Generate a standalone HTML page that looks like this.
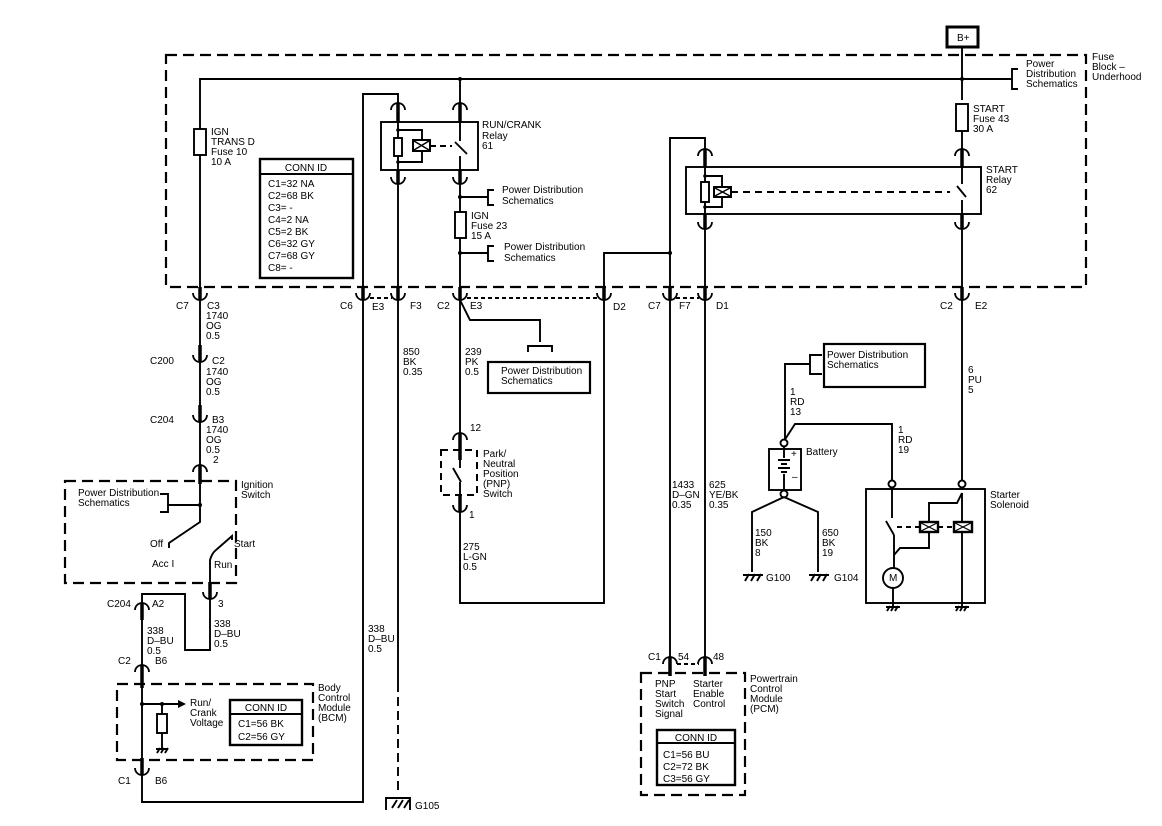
<!DOCTYPE html>
<html><head><meta charset="utf-8"><style>
html,body{margin:0;padding:0;background:#fff}
svg{display:block}
text{font-family:"Liberation Sans",Arial,sans-serif;font-size:10px;fill:#000}
</style></head><body>
<svg width="1162" height="826" viewBox="0 0 1162 826" xmlns="http://www.w3.org/2000/svg">
<g fill="none" stroke="#000" stroke-width="1.9">
<rect x="166" y="55" width="920" height="232" stroke-width="2.2" stroke-dasharray="11,6"/>
<rect x="947" y="27" width="31" height="20" stroke-width="3"/>
<line x1="962" y1="47" x2="962" y2="100"/>
<polyline points="200,293 200,79 1012,79"/>
<path d="M1018,69 H1012 V89 H1018"/>
<rect x="194" y="129" width="12" height="26" fill="#fff"/>
<rect x="260" y="159" width="93" height="119" stroke-width="2.4"/>
<line x1="260" y1="174" x2="353" y2="174"/>
<polyline points="398,110 398,94 363,94 363,802 142,802 142,768"/>
<line x1="460" y1="79" x2="460" y2="110"/>
<rect x="381" y="122" width="97" height="48"/>
<line x1="398" y1="110" x2="398" y2="177"/>
<polyline points="398,130 422,130 422,140"/>
<polyline points="422,151 422,162 398,162"/>
<rect x="394" y="138" width="8" height="18" fill="#fff"/>
<rect x="413" y="140" width="17" height="11" fill="#fff" stroke-width="2"/>
<path d="M414,141 L429,150 M429,141 L414,150" stroke-width="1.4"/>
<line x1="430" y1="146" x2="452" y2="146" stroke-dasharray="6,4"/>
<line x1="460" y1="110" x2="460" y2="141"/>
<line x1="455" y1="142" x2="467" y2="154"/>
<line x1="460" y1="156" x2="460" y2="440"/>
<line x1="398" y1="177" x2="398" y2="683"/>
<line x1="398" y1="683" x2="398" y2="795" stroke-dasharray="9,5"/>
<polyline points="460,197 488,197"/>
<path d="M494,190 H488 V205 H494"/>
<rect x="455" y="212" width="11" height="26" fill="#fff"/>
<polyline points="460,253 488,253"/>
<path d="M494,246 H488 V261 H494"/>
<polyline points="604,293 604,253 670,253"/>
<polyline points="705,156 705,138 670,138 670,664"/>
<rect x="686" y="167" width="295" height="47"/>
<line x1="705" y1="156" x2="705" y2="664"/>
<polyline points="705,176 722,176 722,186"/>
<polyline points="722,197 722,207 705,207"/>
<rect x="701" y="182" width="8" height="20" fill="#fff"/>
<rect x="714" y="187" width="17" height="10" fill="#fff" stroke-width="2"/>
<path d="M715,188 L730,196 M730,188 L715,196" stroke-width="1.4"/>
<line x1="731" y1="192" x2="950" y2="192" stroke-dasharray="7,5"/>
<rect x="956" y="104" width="12" height="27" fill="#fff"/>
<line x1="962" y1="131" x2="962" y2="156"/>
<line x1="962" y1="167" x2="962" y2="184"/>
<line x1="957" y1="186" x2="966" y2="197"/>
<line x1="962" y1="200" x2="962" y2="480"/>
<line x1="467" y1="298" x2="598" y2="298" stroke-dasharray="4,3"/>
<line x1="370" y1="298" x2="392" y2="298" stroke-dasharray="4,3"/>
<line x1="676" y1="298" x2="699" y2="298" stroke-dasharray="4,3"/>
<line x1="677" y1="664" x2="699" y2="664" stroke-dasharray="4,3"/>
<line x1="200" y1="293" x2="200" y2="505"/>
<rect x="65" y="481" width="171" height="102" stroke-width="2.2" stroke-dasharray="11,6"/>
<polyline points="200,505 168,505"/>
<path d="M160,494 H168 V512 H160"/>
<polyline points="200,505 200,522 169,543 169,548"/>
<path d="M232,540 L232,536 L216,550 Q212,553 210,560 L210,650 L185,650 L185,594 L142,594 L142,610"/>
<line x1="142" y1="610" x2="142" y2="768"/>
<rect x="117" y="684" width="196" height="76" stroke-width="2.2" stroke-dasharray="11,6"/>
<polyline points="142,704 178,704"/>
<line x1="162" y1="704" x2="162" y2="714"/>
<rect x="157" y="714" width="10" height="19" fill="#fff"/>
<line x1="162" y1="733" x2="162" y2="748"/>
<rect x="230" y="700" width="72" height="45" stroke-width="2.4"/>
<line x1="230" y1="714" x2="302" y2="714"/>
<path d="M386,810 V798 H410 V810"/>
<path d="M392,808 L397,800 M398,808 L403,800 M404,808 L409,800"/>
<polyline points="460,300 470,320 540,320 540,342"/>
<path d="M528,352 V346 H552 V352"/>
<rect x="488" y="362" width="102" height="31" stroke-width="2.2"/>
<rect x="441" y="450" width="36" height="45" stroke-width="2" stroke-dasharray="7,5"/>
<line x1="460" y1="440" x2="460" y2="468"/>
<line x1="453" y1="468" x2="461" y2="482"/>
<polyline points="460,482 460,603 604,603 604,293"/>
<rect x="641" y="673" width="104" height="122" stroke-width="2.2" stroke-dasharray="11,6"/>
<rect x="657" y="730" width="78" height="55" stroke-width="2.4"/>
<line x1="657" y1="743" x2="735" y2="743"/>
<rect x="824" y="344" width="101" height="43" stroke-width="2.2"/>
<path d="M822,355 H810 V374 H822"/>
<polyline points="810,364 785,364 785,440"/>
<polyline points="784,441 795,424 892,424 892,480"/>
<rect x="769" y="449" width="32" height="41"/>
<circle cx="784" cy="443" r="3.5" fill="#fff"/>
<circle cx="784" cy="494" r="3.5" fill="#fff"/>
<path d="M784,446 V458 M778,460 H790 M781,464 H787 M778,468 H790 M781,472 H787 M784,474 V490"/>
<polyline points="784,497 752,512 752,572"/>
<polyline points="784,497 818,512 818,572"/>
<path d="M743,575 H763 M745,581 L749,574 M751,581 L755,574 M757,581 L761,574"/>
<path d="M809,575 H829 M811,581 L815,574 M817,581 L821,574 M823,581 L827,574"/>
<rect x="866" y="489" width="119" height="114"/>
<circle cx="892" cy="484" r="3.5" fill="#fff"/>
<circle cx="962" cy="484" r="3.5" fill="#fff"/>
<line x1="892" y1="488" x2="892" y2="518"/>
<line x1="886" y1="521" x2="894" y2="535"/>
<polyline points="894,535 894,568"/>
<polyline points="894,555 900,548 929,548 929,532"/>
<polyline points="929,522 929,503 957,503 962,493"/>
<line x1="962" y1="493" x2="962" y2="606"/>
<line x1="897" y1="527" x2="920" y2="527" stroke-dasharray="5,4"/>
<line x1="938" y1="527" x2="955" y2="527" stroke-dasharray="5,4"/>
<rect x="920" y="522" width="18" height="10" fill="#fff" stroke-width="2.4"/>
<rect x="954" y="522" width="18" height="10" fill="#fff" stroke-width="2.4"/>
<path d="M921,523 L937,531 M937,523 L921,531 M955,523 L971,531 M971,523 L955,531" stroke-width="1.2"/>
<circle cx="893" cy="578" r="10" fill="#fff"/>
<line x1="893" y1="588" x2="893" y2="606"/>
<path d="M886,607 H900 M887,611 L890,606 M891,611 L894,606 M895,611 L898,606"/>
<path d="M955,607 H969 M956,611 L959,606 M960,611 L963,606 M964,611 L967,606"/>
<path d="M156,749 H168 M157,753 L160,748 M161,753 L164,748 M165,753 L168,748"/>
</g>
<polygon points="178,700 186,704 178,708" fill="#000"/>
<g fill="#000">
<circle cx="460" cy="79" r="2"/><circle cx="962" cy="79" r="2"/>
<circle cx="460" cy="197" r="2"/><circle cx="460" cy="253" r="2"/>
<circle cx="670" cy="253" r="2"/><circle cx="200" cy="505" r="2"/>
<circle cx="142" cy="704" r="2"/><circle cx="162" cy="704" r="2"/>
<circle cx="398" cy="130" r="1.8"/><circle cx="398" cy="162" r="1.8"/>
<circle cx="705" cy="176" r="1.8"/><circle cx="705" cy="207" r="1.8"/>
</g>
<g fill="none" stroke="#000" stroke-width="1.8">
<path d="M193,293 A7,7 0 0 0 207,293 M356,293 A7,7 0 0 0 370,293 M391,293 A7,7 0 0 0 405,293 M453,293 A7,7 0 0 0 467,293 M597,293 A7,7 0 0 0 611,293 M663,293 A7,7 0 0 0 677,293 M698,293 A7,7 0 0 0 712,293 M955,293 A7,7 0 0 0 969,293"/>
<path d="M193,355 A7,7 0 0 0 207,355 M193,415 A7,7 0 0 0 207,415 M203,592 A7,7 0 0 0 217,592 M135,768 A7,7 0 0 0 149,768 M453,505 A7,7 0 0 0 467,505"/>
<path d="M391,177 A7,7 0 0 0 405,177 M453,177 A7,7 0 0 0 467,177 M698,222 A7,7 0 0 0 712,222 M955,222 A7,7 0 0 0 969,222"/>
<path d="M391,110 A7,7 0 0 1 405,110 M453,110 A7,7 0 0 1 467,110 M698,156 A7,7 0 0 1 712,156 M955,156 A7,7 0 0 1 969,156"/>
<path d="M193,472 A7,7 0 0 1 207,472 M135,610 A7,7 0 0 1 149,610 M135,672 A7,7 0 0 1 149,672 M453,440 A7,7 0 0 1 467,440 M663,664 A7,7 0 0 1 677,664 M698,664 A7,7 0 0 1 712,664"/>
</g>
<g stroke="#000" stroke-width="3.5">
<path d="M200,287 V300 M363,287 V300 M398,287 V300 M460,287 V300 M604,287 V300 M670,287 V300 M705,287 V300 M962,287 V300"/>
<path d="M200,345 V362 M200,405 V422 M210,582 V599 M142,758 V775 M460,495 V512"/>
<path d="M398,170 V184 M460,170 V184 M705,214 V229 M962,214 V229"/>
<path d="M398,103 V122 M460,103 V122 M705,149 V167 M962,149 V167"/>
<path d="M200,465 V484 M142,603 V620 M142,665 V688 M460,433 V460 M670,657 V676 M705,657 V676"/>
</g>
<text x="957" y="41" font-size="9">B+</text>
<text x="1026" y="67">Power</text><text x="1026" y="77">Distribution</text><text x="1026" y="87">Schematics</text>
<text x="1092" y="60">Fuse</text><text x="1092" y="70">Block –</text><text x="1092" y="80">Underhood</text>
<text x="211" y="135">IGN</text><text x="211" y="145">TRANS D</text><text x="211" y="155">Fuse 10</text><text x="211" y="165">10 A</text>
<text x="306" y="171" text-anchor="middle" font-size="10.5">CONN ID</text>
<text x="268" y="187">C1=32 NA</text><text x="268" y="199">C2=68 BK</text><text x="268" y="211">C3= -</text><text x="268" y="223">C4=2 NA</text><text x="268" y="235">C5=2 BK</text><text x="268" y="247">C6=32 GY</text><text x="268" y="259">C7=68 GY</text><text x="268" y="271">C8= -</text>
<text x="482" y="128">RUN/CRANK</text><text x="482" y="139">Relay</text><text x="482" y="149">61</text>
<text x="502" y="193">Power Distribution</text><text x="502" y="204">Schematics</text>
<text x="471" y="219">IGN</text><text x="471" y="229">Fuse 23</text><text x="471" y="239">15 A</text>
<text x="504" y="250">Power Distribution</text><text x="504" y="261">Schematics</text>
<text x="973" y="112">START</text><text x="973" y="122">Fuse 43</text><text x="973" y="132">30 A</text>
<text x="986" y="173">START</text><text x="986" y="183">Relay</text><text x="986" y="193">62</text>
<text x="176" y="309">C7</text><text x="207" y="309">C3</text><text x="206" y="319">1740</text><text x="206" y="329">OG</text><text x="206" y="339">0.5</text>
<text x="340" y="309">C6</text><text x="372" y="310">E3</text><text x="410" y="309">F3</text>
<text x="437" y="309">C2</text><text x="470" y="309">E3</text><text x="613" y="310">D2</text>
<text x="648" y="309">C7</text><text x="679" y="309">F7</text><text x="716" y="309">D1</text>
<text x="940" y="309">C2</text><text x="975" y="309">E2</text>
<text x="150" y="364">C200</text><text x="212" y="364">C2</text><text x="206" y="375">1740</text><text x="206" y="385">OG</text><text x="206" y="395">0.5</text>
<text x="150" y="423">C204</text><text x="212" y="423">B3</text><text x="206" y="433">1740</text><text x="206" y="443">OG</text><text x="206" y="453">0.5</text><text x="213" y="463">2</text>
<text x="403" y="355">850</text><text x="403" y="365">BK</text><text x="403" y="375">0.35</text>
<text x="465" y="355">239</text><text x="465" y="365">PK</text><text x="465" y="375">0.5</text>
<text x="501" y="374">Power Distribution</text><text x="501" y="384">Schematics</text>
<text x="470" y="431">12</text>
<text x="483" y="457">Park/</text><text x="483" y="467">Neutral</text><text x="483" y="477">Position</text><text x="483" y="487">(PNP)</text><text x="483" y="497">Switch</text>
<text x="469" y="518">1</text>
<text x="463" y="550">275</text><text x="463" y="560">L-GN</text><text x="463" y="570">0.5</text>
<text x="241" y="488">Ignition</text><text x="241" y="498">Switch</text>
<text x="78" y="496">Power Distribution</text><text x="78" y="506">Schematics</text>
<text x="150" y="547">Off</text><text x="234" y="547">Start</text><text x="152" y="567">Acc I</text><text x="214" y="568">Run</text>
<text x="218" y="607">3</text>
<text x="107" y="607">C204</text><text x="152" y="607">A2</text>
<text x="214" y="627">338</text><text x="214" y="637">D–BU</text><text x="214" y="647">0.5</text>
<text x="147" y="634">338</text><text x="147" y="644">D–BU</text><text x="147" y="654">0.5</text>
<text x="118" y="664">C2</text><text x="155" y="664">B6</text>
<text x="368" y="632">338</text><text x="368" y="642">D–BU</text><text x="368" y="652">0.5</text>
<text x="318" y="691">Body</text><text x="318" y="701">Control</text><text x="318" y="711">Module</text><text x="318" y="721">(BCM)</text>
<text x="190" y="706">Run/</text><text x="190" y="716">Crank</text><text x="190" y="726">Voltage</text>
<text x="266" y="711" text-anchor="middle" font-size="10.5">CONN ID</text>
<text x="238" y="727" font-size="10.5">C1=56 BK</text><text x="238" y="740" font-size="10.5">C2=56 GY</text>
<text x="118" y="784">C1</text><text x="155" y="784">B6</text>
<text x="415" y="809">G105</text>
<text x="672" y="488">1433</text><text x="672" y="498">D–GN</text><text x="672" y="508">0.35</text>
<text x="709" y="488">625</text><text x="709" y="498">YE/BK</text><text x="709" y="508">0.35</text>
<text x="827" y="358">Power Distribution</text><text x="827" y="368">Schematics</text>
<text x="790" y="395">1</text><text x="790" y="405">RD</text><text x="790" y="415">13</text>
<text x="898" y="433">1</text><text x="898" y="443">RD</text><text x="898" y="453">19</text>
<text x="968" y="373">6</text><text x="968" y="383">PU</text><text x="968" y="393">5</text>
<text x="806" y="455">Battery</text>
<text x="791" y="457" font-size="8">+</text><text x="792" y="480" font-size="8">–</text>
<text x="990" y="498">Starter</text><text x="990" y="508">Solenoid</text>
<text x="889" y="581" font-size="8">M</text>
<text x="755" y="536">150</text><text x="755" y="546">BK</text><text x="755" y="556">8</text>
<text x="822" y="536">650</text><text x="822" y="546">BK</text><text x="822" y="556">19</text>
<text x="766" y="581">G100</text><text x="834" y="581">G104</text>
<text x="648" y="660">C1</text><text x="678" y="660">54</text><text x="713" y="660">48</text>
<text x="655" y="687">PNP</text><text x="655" y="697">Start</text><text x="655" y="707">Switch</text><text x="655" y="717">Signal</text>
<text x="693" y="687">Starter</text><text x="693" y="697">Enable</text><text x="693" y="707">Control</text>
<text x="750" y="682">Powertrain</text><text x="750" y="692">Control</text><text x="750" y="702">Module</text><text x="750" y="712">(PCM)</text>
<text x="696" y="741" text-anchor="middle" font-size="10.5">CONN ID</text>
<text x="663" y="758" font-size="10.5">C1=56 BU</text><text x="663" y="770" font-size="10.5">C2=72 BK</text><text x="663" y="782" font-size="10.5">C3=56 GY</text>
</svg>
</body></html>
